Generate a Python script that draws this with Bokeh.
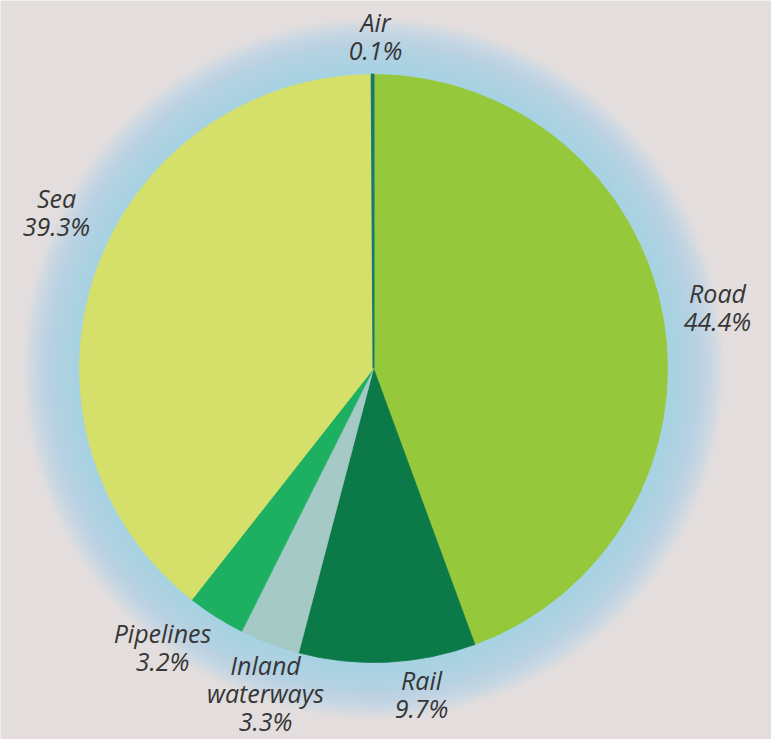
import numpy as np
from bokeh.plotting import figure
from bokeh.models import ColumnDataSource, Range1d
from bokeh.core.properties import value
from bokeh.embed import file_html
from bokeh.resources import INLINE

# ---- data ----
modes = ["Road", "Rail", "Inland waterways", "Pipelines", "Sea", "Air"]
shares = [44.4, 9.7, 3.3, 3.2, 39.3, 0.1]
colors = ["#96c83c", "#0b7a48", "#a5c9c4", "#1eb062", "#d5e06a", "#167a6c"]
label_lines = [["Road"], ["Rail"], ["Inland", "waterways"], ["Pipelines"], ["Sea"], ["Air"]]

# ---- layout ----
W, H = 771, 739
cx, cy = 373, H - 368
R = 294
# label anchor (center x, y of first line in screen px)
label_pos = [(717, 292), (421, 679), (265, 664), (162, 632), (56, 197), (375, 21)]
line_gap = 28

p = figure(width=W, height=H, x_range=Range1d(0, W), y_range=Range1d(0, H),
           output_backend="svg", toolbar_location=None, min_border=0)
p.axis.visible = False
p.grid.visible = False
p.outline_line_color = None
p.background_fill_color = "#e3dedd"
p.border_fill_color = "#e3dedd"

# halo
n = 30
for i in range(n):
    r = R + 56 * (i + 1) / n
    p.circle(x=[cx], y=[cy], radius=r, fill_color="#a9d9ec", fill_alpha=0.065,
             line_color=None)

frac = np.array(shares) / sum(shares)
cum = np.cumsum(frac)
prev = cum - frac
src = ColumnDataSource(dict(
    start=np.pi / 2 - cum * 2 * np.pi,
    end=np.pi / 2 - prev * 2 * np.pi,
    color=colors,
    lw=[0.8, 0.8, 0.8, 0.8, 0.8, 2.0],
))
p.wedge(x=cx, y=cy, radius=R, start_angle="start", end_angle="end",
        fill_color="color", line_color="color", line_width="lw", source=src)

xs, ys, txt = [], [], []
for name_lines, share, (lx, ly) in zip(label_lines, shares, label_pos):
    lines = name_lines + [f"{share}%"]
    for k, t in enumerate(lines):
        xs.append(lx)
        ys.append(H - (ly + k * line_gap))
        txt.append(t)
p.text(x=xs, y=ys, text=txt, text_align="center", text_baseline="middle",
       text_font=value("Open Sans"), text_font_style="italic",
       text_font_size="25px", text_color="#363636")

open("out.html", "w").write(file_html(p, INLINE))
